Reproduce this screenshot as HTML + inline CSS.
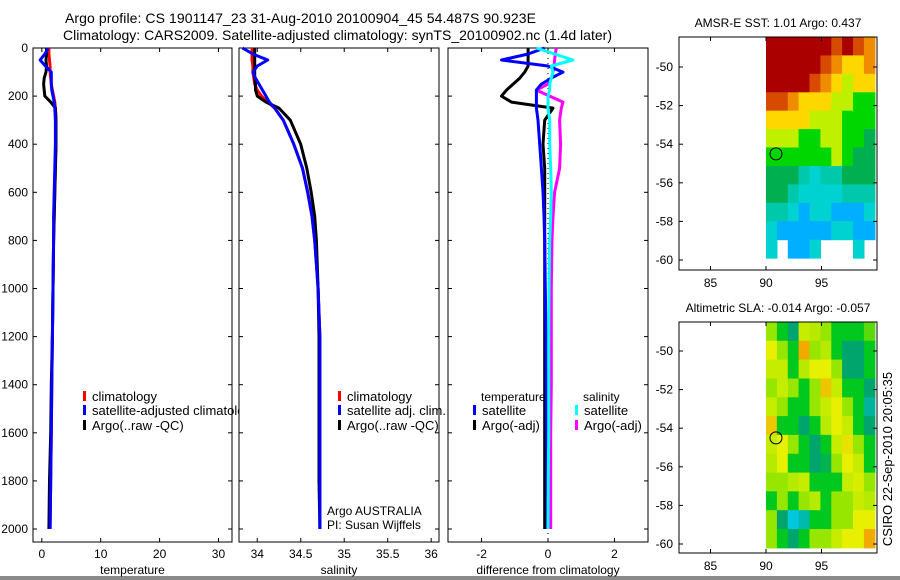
<!DOCTYPE html>
<html><head><meta charset="utf-8"><style>
html,body{margin:0;padding:0;background:#fff;}
svg{display:block;font-family:"Liberation Sans",sans-serif;}
</style></head><body>
<svg id="fig" width="900" height="580" viewBox="0 0 900 580" xmlns="http://www.w3.org/2000/svg">
<rect x="0" y="0" width="900" height="580" fill="#fff"/>
<rect x="0" y="576" width="900" height="4" fill="#8a8a8a"/>
<text x="65" y="23" font-size="14" textLength="471">Argo profile: CS 1901147_23 31-Aug-2010 20100904_45 54.487S 90.923E</text>
<text x="63" y="40" font-size="14" textLength="549">Climatology: CARS2009. Satellite-adjusted climatology: synTS_20100902.nc (1.4d later)</text>
<g id="plots"></g>
</svg>
<script>
const depths=[0,25,50,75,100,125,150,175,200,225,250,300,400,500,600,700,800,1000,1200,1400,1600,1800,2000];
const tempClim=[1.2,1.2,1.3,1.4,1.4,1.5,1.6,1.8,2.0,2.2,2.3,2.4,2.4,2.3,2.2,2.1,2.0,1.9,1.8,1.7,1.6,1.5,1.4];
const tempSat=[1.1,0.5,-0.3,0.6,1.6,1.6,1.6,1.7,1.9,2.1,2.2,2.3,2.3,2.2,2.1,2.0,2.0,1.9,1.8,1.7,1.6,1.5,1.4];
const tempArgo=[0.8,0.8,0.7,0.8,0.7,0.4,0.3,0.4,0.5,1.5,2.3,2.4,2.4,2.3,2.2,2.1,2.0,1.9,1.8,1.6,1.5,1.3,1.2];
const salClim=[33.94,33.94,33.94,33.95,33.95,33.96,33.97,34.0,34.05,34.12,34.2,34.3,34.42,34.52,34.58,34.63,34.66,34.70,34.72,34.72,34.72,34.72,34.72];
const salSat=[33.83,33.95,34.12,34.0,33.95,33.98,34.02,34.06,34.1,34.14,34.2,34.3,34.42,34.52,34.58,34.63,34.66,34.70,34.72,34.72,34.72,34.72,34.72];
const salArgo=[33.97,33.97,33.97,33.97,33.97,33.97,33.98,33.98,34.0,34.1,34.25,34.38,34.5,34.57,34.62,34.66,34.68,34.70,34.71,34.71,34.71,34.71,34.72];
const diffTempSat=[-0.1,-0.6,-1.4,0.0,0.45,0.1,-0.2,-0.35,-0.35,-0.35,-0.35,-0.3,-0.25,-0.2,-0.15,-0.12,-0.1,-0.08,-0.06,-0.05,-0.04,-0.03,-0.02];
const diffTempArgo=[-0.6,-0.6,-0.6,-0.6,-0.7,-0.85,-1.05,-1.25,-1.4,-1.1,0.15,-0.1,-0.15,-0.1,-0.1,-0.1,-0.1,-0.1,-0.1,-0.1,-0.1,-0.1,-0.1];
const diffSalSat=[-0.35,0.2,0.75,0.1,0.15,0.1,0.05,0.05,0.0,0.0,0.0,0.05,0.05,0.08,0.1,0.08,0.05,0.03,0.02,0.02,0.02,0.01,0.0];
const diffSalArgo=[0.25,0.22,0.2,0.18,0.15,0.1,0.0,-0.35,0.05,0.45,0.4,0.35,0.38,0.35,0.2,0.15,0.12,0.1,0.1,0.1,0.08,0.08,0.08];
const depthTicks=[0,200,400,600,800,1000,1200,1400,1600,1800,2000];
const tempTicks=[0,10,20,30];
const salTicks=[34,34.5,35,35.5,36];
const salTickLabels=["34","34.5","35","35.5","36"];
const diffTicks=[-2,0,2];
const mapLonTicks=[85,90,95];
const mapLatTicks=[-50,-52,-54,-56,-58,-60];
const sstGrid=[
[10,10,10,10,10,10,9,10,9,8],
[10,10,10,10,10,9,8,7,7,8],
[10,10,10,10,9,8,7,6,7,7],
[9,9,8,7,7,7,6,6,5,5],
[7,7,7,7,6,6,6,5,5,5],
[6,6,6,5,5,6,6,5,5,4],
[5,5,5,5,5,5,6,5,4,4],
[4,4,4,3,2,3,3,4,4,4],
[4,4,3,2,2,2,2,3,3,3],
[3,3,2,1,2,2,1,1,1,2],
[2,1,1,1,1,1,2,2,1,1],
[2,null,1,1,2,null,null,null,2,null]];
const slaGrid=[
[0,-0.05,-0.1,0.03,0.02,0,-0.05,-0.05,-0.05,-0.02],
[0.05,0,-0.05,0.1,0,0.02,-0.05,-0.1,-0.1,-0.05],
[0.03,0.03,-0.05,0.02,0.05,0.05,0,-0.1,-0.1,-0.05],
[0,0.03,0,-0.05,0,0.08,0.03,-0.05,-0.05,-0.1],
[0.03,0,-0.05,-0.05,0,0.03,0.05,0,-0.05,-0.12],
[0.08,-0.05,-0.05,-0.1,-0.05,0.02,0.05,0.03,-0.05,-0.1],
[0.03,0.05,0,-0.05,-0.1,-0.05,0.03,0.06,0,-0.05],
[0.02,0.05,-0.05,-0.05,-0.1,-0.08,0,0.05,0.03,-0.05],
[0,0,0.02,0.03,-0.05,-0.05,-0.05,0.03,0.04,0],
[-0.05,0,-0.05,0,0.02,-0.05,0,0,0.03,0.02],
[0,-0.1,-0.15,-0.13,-0.05,-0.05,0,0,0.05,0.05],
[0,-0.05,-0.1,-0.05,0,0,0.03,0.05,0.05,0.1]];
const argoLon=90.9, argoLat=-54.5;

const NS="http://www.w3.org/2000/svg";
const root=document.getElementById('plots');
function el(tag,attrs,parent){const e=document.createElementNS(NS,tag);for(const k in attrs)e.setAttribute(k,attrs[k]);(parent||root).appendChild(e);return e;}
function txt(x,y,s,size,anchor,parent){const t=el('text',{x:x,y:y,'font-size':size,'text-anchor':anchor||'start'},parent);t.textContent=s;return t;}

function profilePanel(name,x0,x1,xmin,xmax,ticks,labels,xlabel,showY){
  const y0=48,y1=542,dmax=2054;
  const g=el('g',{});
  
  
  const sx=v=>x0+(v-xmin)/(xmax-xmin)*(x1-x0);
  const sy=d=>y0+d/dmax*(y1-y0);
  el('rect',{x:x0,y:y0,width:x1-x0,height:y1-y0,fill:'none',stroke:'#000','stroke-width':1},g);
  ticks.forEach((t,i)=>{const x=sx(t);
    el('line',{x1:x,y1:y0,x2:x,y2:y0+4,stroke:'#000'},g);
    el('line',{x1:x,y1:y1,x2:x,y2:y1-4,stroke:'#000'},g);
    const l=txt(x,y1+16,labels[i],12,'middle',g);
    
    });
  depthTicks.forEach(d=>{const y=sy(d);
    el('line',{x1:x0,y1:y,x2:x0+4,y2:y,stroke:'#000'},g);
    el('line',{x1:x1,y1:y,x2:x1-4,y2:y,stroke:'#000'},g);
    if(showY){const l=txt(x0-5,y+4,String(d),12,'end',g);
      
      }});
  const xl=txt((x0+x1)/2,y1+32,xlabel,12,'middle',g);
  
  
  return {g,sx,sy};
}
function series(p,vals,color,name,w){
  const pts=vals.map((v,i)=>p.sx(v).toFixed(1)+','+p.sy(depths[i]).toFixed(1)).join(' ');
  const l=el('polyline',{points:pts,fill:'none',stroke:color,'stroke-width':w||3,'stroke-linejoin':'round'},p.g);
  
  
}
function legend(g,x,y,color,label,name){
  el('rect',{x:x,y:y-10,width:3,height:10,fill:color},g);
  const t=txt(x+9,y,label,13,'start',g);
  
  
}
const p1=profilePanel('temperature-panel',33,232,-1.5,32.3,tempTicks,tempTicks.map(String),'temperature',true);
series(p1,tempClim,'#f00','temp-climatology-line');
series(p1,tempArgo,'#000','temp-argo-line');
series(p1,tempSat,'#00f','temp-satellite-line');
legend(p1.g,83,401,'#f00','climatology','legend-climatology');
const clip=el('clipPath',{id:'c1'},p1.g);el('rect',{x:0,y:0,width:239,height:580},clip);
const lg2=el('g',{'clip-path':'url(#c1)'},p1.g);
legend(lg2,83,415,'#00f','satellite-adjusted climatology','legend-satellite-adjusted');
legend(p1.g,83,430,'#000','Argo(..raw -QC)','legend-argo');
const p2=profilePanel('salinity-panel',239,439,33.79,36.09,salTicks,salTickLabels,'salinity',false);
series(p2,salClim,'#f00','sal-climatology-line');
series(p2,salArgo,'#000','sal-argo-line');
series(p2,salSat,'#00f','sal-satellite-line');
legend(p2.g,338,401,'#f00','climatology','legend-climatology');
legend(p2.g,338,415,'#00f','satellite adj. clim.','legend-satellite-adj');
legend(p2.g,338,430,'#000','Argo(..raw -QC)','legend-argo');
const a1=txt(327,515,'Argo AUSTRALIA',12,'start',p2.g);
const a2=txt(327,529,'PI: Susan Wijffels',12,'start',p2.g);
const p3=profilePanel('difference-panel',448,648,-3.01,3.01,diffTicks,diffTicks.map(String),'difference from climatology',false);
el('line',{x1:p3.sx(0),y1:48,x2:p3.sx(0),y2:542,stroke:'#000','stroke-dasharray':'1,4'},p3.g);
series(p3,diffTempArgo,'#000','diff-temp-argo-line');
series(p3,diffSalArgo,'#f0f','diff-sal-argo-line');
series(p3,diffTempSat,'#00f','diff-temp-satellite-line');
series(p3,diffSalSat,'#0ff','diff-sal-satellite-line');
const th=txt(481,401,'temperature',12,'start',p3.g);
const sh=txt(583,401,'salinity',12,'start',p3.g);
legend(p3.g,473,415,'#00f','satellite','legend-temp-satellite');
legend(p3.g,473,430,'#000','Argo(-adj)','legend-temp-argo');
legend(p3.g,575,415,'#0ff','satellite','legend-sal-satellite');
legend(p3.g,575,430,'#f0f','Argo(-adj)','legend-sal-argo');

function interp(stops,v){
  if(v<=stops[0][0])return 'rgb('+stops[0][1].join(',')+')';
  for(let i=1;i<stops.length;i++){if(v<=stops[i][0]){const a=stops[i-1],b=stops[i],t=(v-a[0])/(b[0]-a[0]);
    return 'rgb('+a[1].map((c,j)=>Math.round(c+(b[1][j]-c)*t)).join(',')+')';}}
  return 'rgb('+stops[stops.length-1][1].join(',')+')';
}
const sstStops=[[0,[0,110,240]],[1,[0,175,255]],[2,[0,210,210]],[3,[0,200,170]],[4,[0,175,80]],[5,[0,215,0]],[6,[190,240,0]],[7,[255,215,0]],[8,[240,140,0]],[9,[215,75,0]],[10,[170,0,0]]];
const slaStops=[[-0.15,[0,200,220]],[-0.1,[0,165,110]],[-0.05,[0,200,30]],[0,[150,230,0]],[0.05,[230,240,0]],[0.1,[240,170,0]]];
function mapPanel(name,y0,y1,latRef,yRef,grid,stops,title,latBottom){
  const x0=679,x1=877;
  const g=el('g',{});
  
  
  const pxLon=11.1, pxLat=19.3;
  const sx=lon=>766+(lon-90)*pxLon;
  const sy=lat=>yRef+(latRef-lat)*pxLat;
  const latTop=latRef+(yRef-y0)/pxLat;
  const nr=grid.length,nc=grid[0].length;
  const dLat=(latTop-latBottom)/nr, dLon=9.8/nc;
  grid.forEach((row,r)=>row.forEach((v,c)=>{ if(v===null)return;
    const x=sx(90+c*dLon), y=sy(latTop-r*dLat);
    const cell=el('rect',{x:x.toFixed(1),y:y.toFixed(1),width:(dLon*pxLon+0.6).toFixed(1),height:(dLat*pxLat+0.6).toFixed(1),fill:interp(stops,v)},g);
    
    }));
  el('rect',{x:x0,y:y0,width:x1-x0,height:y1-y0,fill:'none',stroke:'#000'},g);
  mapLonTicks.forEach(l=>{const x=sx(l);el('line',{x1:x,y1:y1,x2:x,y2:y1-4,stroke:'#000'},g);el('line',{x1:x,y1:y0,x2:x,y2:y0+4,stroke:'#000'},g);
    const t=txt(x,y1+17,String(l),12,'middle',g);});
  mapLatTicks.forEach(l=>{const y=sy(l);el('line',{x1:x0,y1:y,x2:x0+4,y2:y,stroke:'#000'},g);el('line',{x1:x1,y1:y,x2:x1-4,y2:y,stroke:'#000'},g);
    const t=txt(x0-6,y+4,String(l),12,'end',g);});
  const c=el('circle',{cx:sx(argoLon),cy:sy(argoLat),r:6,fill:'none',stroke:'#000','stroke-width':1},g);
  
  
  const tt=txt(778,y0-10,title,12,'middle',g);
  
  
}
mapPanel('sst-map',37,270,-50,67,sstGrid,sstStops,'AMSR-E SST: 1.01  Argo: 0.437',-59.9);
mapPanel('sla-map',322,553,-50,351,slaGrid,slaStops,'Altimetric SLA: -0.014  Argo: -0.057',-60.2);
const cs=txt(0,0,'CSIRO 22-Sep-2010 20:05:35',13,'middle');
cs.setAttribute('transform','translate(892,459) rotate(-90)');


</script>
</body></html>
